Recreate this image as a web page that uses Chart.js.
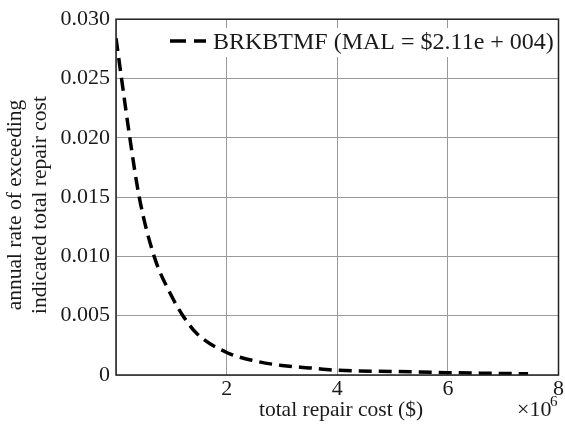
<!DOCTYPE html>
<html>
<head>
<meta charset="utf-8">
<script src="https://cdn.jsdelivr.net/npm/chart.js@4"></script>
<style>
  html, body { margin: 0; padding: 0; background: #fff; }
  #wrap { width: 565px; height: 428px; }
</style>
</head>
<body>
<div id="wrap"><canvas id="lossCurve" width="565" height="428"></canvas></div>
<script>
// loss curve: total repair cost (millions of $) vs annual exceedance rate
const repairCostM = [0, 0.1, 0.25, 0.42, 0.69, 1.0, 1.21, 1.46, 2.0, 2.5, 3.0, 3.5, 4.0, 5.0, 6.0, 7.45];
const exceedRate = [0.0284, 0.025, 0.020, 0.015, 0.010, 0.0067, 0.005, 0.0035, 0.0019, 0.0012, 0.0008, 0.0006, 0.0004, 0.0003, 0.0002, 0.0001];
const xTickLabels = ['', '2', '4', '6', '8'];
const yTickLabels = ['0', '0.005', '0.010', '0.015', '0.020', '0.025', '0.030'];
const seriesName = 'BRKBTMF (MAL = $2.11e + 004)';

const serif = '"Liberation Serif", "DejaVu Serif", serif';
const textColor = '#1a1a1a';

const points = repairCostM.map((c, i) => ({ x: c * 1e6, y: exceedRate[i] }));

// box, legend and axis titles drawn on top of the plot
const frame = {
  id: 'frame',
  afterDraw(chart) {
    const { ctx, chartArea: a } = chart;
    ctx.save();

    // legend
    ctx.fillStyle = '#fff';
    ctx.fillRect(163, 28, a.right - 164, 29);
    ctx.strokeStyle = '#000';
    ctx.lineWidth = 3.5;
    ctx.setLineDash([16, 8]);
    ctx.beginPath();
    ctx.moveTo(170, 41);
    ctx.lineTo(206, 41);
    ctx.stroke();
    ctx.setLineDash([]);
    ctx.fillStyle = textColor;
    ctx.font = '24px ' + serif;
    ctx.textBaseline = 'alphabetic';
    ctx.textAlign = 'left';
    ctx.fillText(seriesName, 213, 49);

    // plot box
    ctx.lineWidth = 1.5;
    ctx.strokeStyle = '#222';
    ctx.strokeRect(a.left, a.top, a.right - a.left, a.bottom - a.top);

    // x title and exponent
    ctx.font = '21.5px ' + serif;
    ctx.textAlign = 'center';
    ctx.fillText('total repair cost ($)', 341, 416);
    ctx.textAlign = 'left';
    ctx.font = '22px ' + serif;
    ctx.fillText('\u00d710', 517, 416);
    ctx.font = '15px ' + serif;
    ctx.fillText('6', 550, 406);

    // y title, two lines rotated
    ctx.font = '21.5px ' + serif;
    ctx.textBaseline = 'middle';
    ctx.translate(27, 205);
    ctx.rotate(-Math.PI / 2);
    ctx.textAlign = 'center';
    ctx.fillText('annual rate of exceeding', 0, -12);
    ctx.fillText('indicated total repair cost', 0, 13);
    ctx.restore();
  }
};

new Chart(document.getElementById('lossCurve'), {
  type: 'scatter',
  data: {
    datasets: [{
      label: seriesName,
      data: points,
      showLine: true,
      borderColor: '#000',
      borderWidth: 3.5,
      borderDash: [13, 7],
      cubicInterpolationMode: 'monotone',
      pointRadius: 0,
      fill: false
    }]
  },
  options: {
    responsive: false,
    animation: false,
    layout: { padding: { top: 17, right: 5, left: 0, bottom: 0 } },
    plugins: {
      legend: { display: false },
      tooltip: { enabled: false }
    },
    scales: {
      x: {
        type: 'linear',
        min: 0,
        max: 8e6,
        afterFit(scale) { scale.height = 53; },
        afterBuildTicks(scale) {
          scale.ticks = xTickLabels.map((_, i) => ({ value: i * 2e6 }));
        },
        grid: { color: '#9a9a9a', lineWidth: 1, drawTicks: false },
        border: { display: false },
        ticks: {
          padding: 1,
          color: textColor,
          font: { family: serif, size: 22 },
          maxRotation: 0,
          callback: (v, i) => xTickLabels[i]
        }
      },
      y: {
        min: 0,
        max: 0.03,
        afterFit(scale) { scale.width = 116; },
        afterBuildTicks(scale) {
          scale.ticks = yTickLabels.map((_, i) => ({ value: i * 0.005 }));
        },
        grid: { color: '#9a9a9a', lineWidth: 1, drawTicks: false },
        border: { display: false },
        ticks: {
          padding: 6,
          color: textColor,
          font: { family: serif, size: 22 },
          callback: (v, i) => yTickLabels[i]
        }
      }
    }
  },
  plugins: [frame]
});
</script>
</body>
</html>
